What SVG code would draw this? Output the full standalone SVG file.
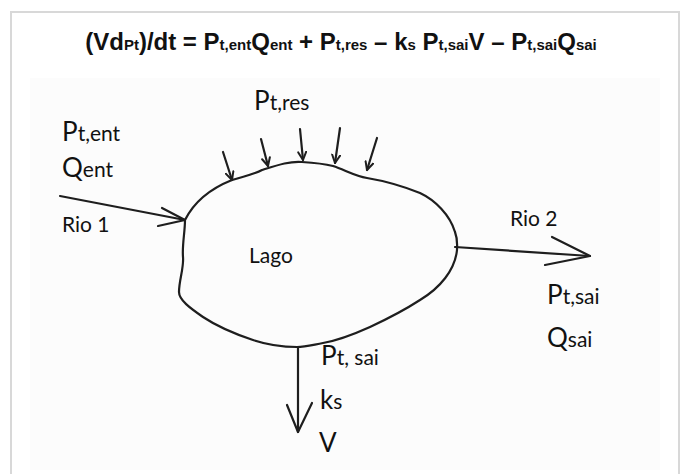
<svg xmlns="http://www.w3.org/2000/svg" width="683" height="474" viewBox="0 0 683 474">
<style>
.title{font-family:"Liberation Sans",Arial,sans-serif;font-weight:bold;font-size:24px;fill:#111}
.sub{font-size:15px}
.lbl{font-family:Lato,"Open Sans",sans-serif;font-size:26px;fill:#111}
.ls{font-size:21px}
.sm{font-family:Lato,"Open Sans",sans-serif;font-size:21px;fill:#111}
.ink{fill:none;stroke:#1e1e1e;stroke-width:2.2;stroke-linecap:round;stroke-linejoin:round}
</style>
<defs>
<marker id="ah" viewBox="0 0 10 10" refX="9" refY="5" markerWidth="10" markerHeight="10" markerUnits="userSpaceOnUse" orient="auto">
<path d="M1,1 L9,5 L1,9" fill="none" stroke="#1e1e1e" stroke-width="2" stroke-linecap="round" stroke-linejoin="round"/>
</marker>
</defs>
<rect x="0" y="0" width="683" height="474" fill="#fff"/>
<rect x="11" y="12" width="668" height="470" fill="#fff" stroke="#d8d8d8" stroke-width="2"/>
<rect x="30" y="78" width="630" height="392" fill="#fcfcfc"/>
<g id="title">
<text class="title" x="341" y="50" text-anchor="middle">(Vd<tspan class="sub">Pt</tspan>)/dt = P<tspan class="sub">t,ent</tspan>Q<tspan class="sub">ent</tspan> + P<tspan class="sub">t,res</tspan> – k<tspan class="sub">s</tspan> P<tspan class="sub">t,sai</tspan>V – P<tspan class="sub">t,sai</tspan>Q<tspan class="sub">sai</tspan></text>
</g>
<g id="lago">
<path class="ink" d="M185,220 C195,200 212,188 232,180 C245,176 255,174 262,170 C278,165 290,161 302,162 C318,163 325,164 333,166 C345,170 355,176 367,178 C385,181 400,185 420,193 C435,200 450,215 455,232 C458,240 457,245 457,250 C455,270 440,288 420,300 C400,313 385,320 370,327 C350,336 335,341 323,343 C312,345 305,347 297,347 C280,347 265,344 253,340 C235,334 215,325 203,317 C190,308 179,300 179,292 C179,280 184,268 183,257 C182,245 185,232 185,220 Z"/>
<text class="sm" x="249" y="263">Lago</text>
</g>
<g id="entrada">
<text class="lbl" x="62" y="141">P<tspan class="ls">t,ent</tspan></text>
<text class="lbl" x="62" y="177">Q<tspan class="ls">ent</tspan></text>
<text class="sm" x="62" y="232">Rio 1</text>
</g>
<g id="residual">
<text class="lbl" x="254" y="110">P<tspan class="ls">t,res</tspan></text>
</g>
<g id="saida">
<text class="sm" x="510" y="226">Rio 2</text>
<text class="lbl" x="547" y="304">P<tspan class="ls">t,sai</tspan></text>
<text class="lbl" x="547" y="347">Q<tspan class="ls">sai</tspan></text>
</g>
<g id="sedimentacao">
<text class="lbl" x="321" y="365">P<tspan class="ls">t, sai</tspan></text>
<text class="lbl" x="320" y="409">k<tspan class="ls">s</tspan></text>
<text class="lbl" x="319" y="452">V</text>
</g>
<g id="connectors">
<line class="ink" x1="223" y1="152" x2="232" y2="180" marker-end="url(#ah)"/>
<line class="ink" x1="261" y1="139" x2="268" y2="166" marker-end="url(#ah)"/>
<line class="ink" x1="300" y1="129" x2="303" y2="160" marker-end="url(#ah)"/>
<line class="ink" x1="340" y1="128" x2="335" y2="163" marker-end="url(#ah)"/>
<line class="ink" x1="377" y1="138" x2="367" y2="170" marker-end="url(#ah)"/>
<line class="ink" x1="60" y1="196" x2="185" y2="220"/>
<polyline class="ink" points="162,208 185,220 158,226"/>
<line class="ink" x1="455" y1="247" x2="590" y2="256"/>
<polyline class="ink" points="552,237 590,256 545,265"/>
<line class="ink" x1="298" y1="348" x2="298" y2="432"/>
<polyline class="ink" points="287,405 298,432 312,403"/>
</g>
</svg>
